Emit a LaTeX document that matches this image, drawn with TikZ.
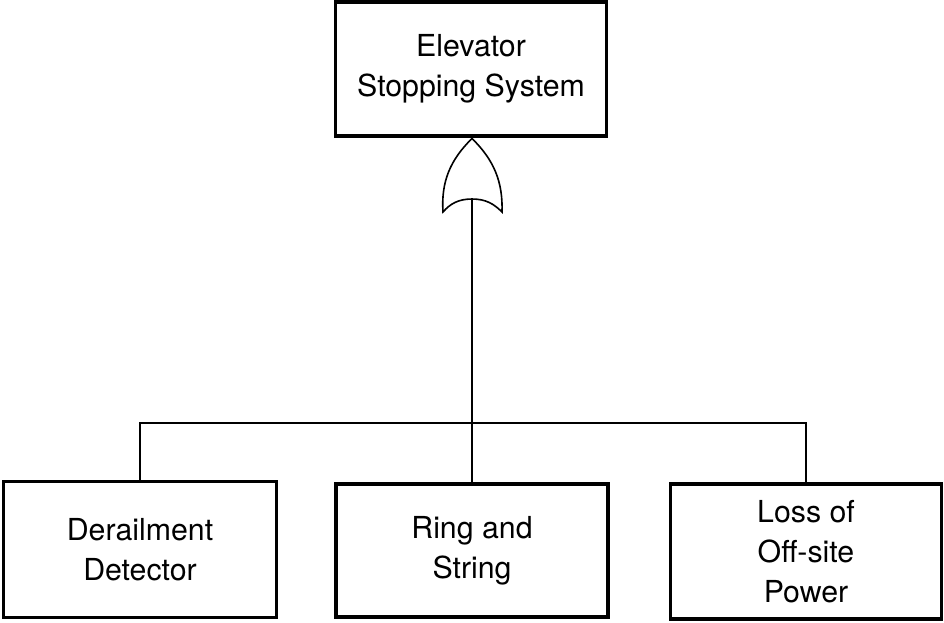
\documentclass[tikz,border=0pt]{standalone}
\usepackage{fontspec}
\setmainfont{TeX Gyre Heros}
\begin{document}
\begin{tikzpicture}[x=1pt,y=-1pt,
  box/.style={draw, line width=3.2pt, rectangle, align=center,
    font=\fontsize{30.3}{40}\selectfont, inner sep=0pt},
  conn/.style={line width=1.2pt},
  gateline/.style={line width=1.6pt, line join=miter}]
\useasboundingbox (0,0) rectangle (944,622);
\node[box, minimum width=271, minimum height=134] (top) at (471,69) {Elevator\\Stopping System};
\node[box, minimum width=273, minimum height=136] (left) at (140,549.5) {Derailment\\Detector};
\node[box, minimum width=272, minimum height=133] (mid) at (472,550.5) {Ring and\\String};
\node[box, minimum width=271, minimum height=135] (right) at (806,551.5) {Loss of\\Off-site\\Power};
% OR gate
\coordinate (gapex) at (472,138.5);
\coordinate (gl) at (443,212);
\coordinate (gr) at (502,212);
\coordinate (gin) at (472,199);
\draw[gateline] (gin) .. controls (458,199) and (450,204) .. (gl)
  .. controls (441,182) and (450,160) .. (gapex)
  .. controls (494,160) and (503,182) .. (gr)
  .. controls (494,204) and (486,199) .. (gin);
% connectors
\coordinate (j) at (472,423);
\draw[conn] (gin) -- (mid.north);
\draw[conn] (left.north) |- (j) -| (right.north);
\end{tikzpicture}
\end{document}
